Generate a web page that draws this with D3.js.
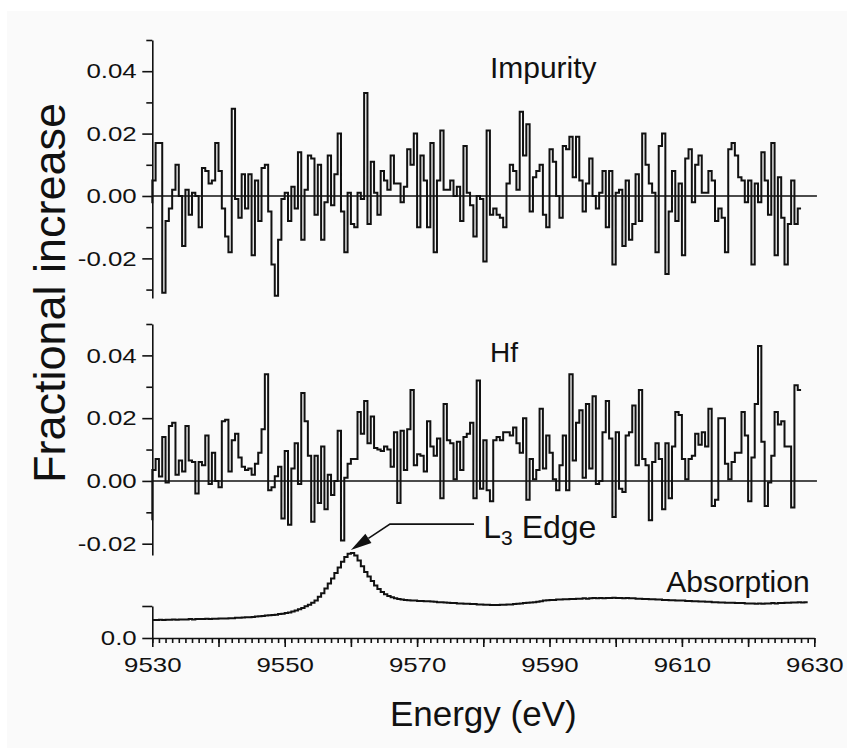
<!DOCTYPE html>
<html lang="en">
<head>
<meta charset="UTF-8">
<title>Fractional increase vs energy</title>
<script src="https://d3js.org/d3.v7.min.js"></script>
<style>
  body { margin: 0; background: #fff; }
  svg { display: block; font-family: "Liberation Sans", Arial, sans-serif; }
</style>
</head>
<body>
<svg width="847" height="750"></svg>
<script>
// bins are 0.5 eV wide, starting at 9530 eV
const binStart = 9530;
const binWidth = 0.5;

// level each trace comes up from at the left edge
const impurityStart = -0.0023;
const hfStart = -0.0125;

const impurity = [
  0.005, 0.017, 0.017, -0.031, -0.008, -0.004, 0.002, 0.010, 0.000, -0.016,
  0.002, -0.006, 0.001, 0.000, -0.010, 0.009, 0.008, 0.004, 0.005, 0.017,
  0.008, -0.004, -0.013, -0.018, 0.028, -0.001, -0.007, 0.007, -0.004, 0.007,
  -0.019, 0.005, -0.008, 0.009, 0.010, -0.005, -0.022, -0.032,
  -0.014, -0.001, 0.001, -0.008, 0.003, -0.004, 0.014, -0.014, 0.002, 0.013,
  0.012, -0.006, 0.010, -0.014, -0.002, 0.013, -0.003, 0.007, 0.020, -0.005,
  -0.018, 0.001, -0.009, -0.010, 0.001, -0.001, 0.033, -0.009, 0.011, 0.001,
  -0.006, 0.008, 0.005, 0.002, 0.013, 0.004, 0.004, -0.002, 0.003, 0.015,
  0.010, 0.020, -0.010, 0.013, 0.005, -0.010, 0.017, -0.018, 0.005, 0.021,
  0.002, 0.002, 0.005, 0.000, 0.003, -0.008, 0.016, 0.001, -0.003, -0.013,
  0.000, -0.001, -0.021, 0.021, -0.006, -0.004, -0.006, -0.007, -0.010, 0.004,
  0.010, 0.008, 0.002, 0.027, 0.013, 0.023, -0.005, 0.006, 0.008, 0.010,
  -0.006, -0.010, 0.015, 0.011, 0.000, -0.007, 0.016, 0.015, 0.019, 0.006,
  0.019, 0.005, -0.005, 0.004, 0.012, 0.000, -0.004, 0.001, 0.008, -0.010,
  0.008, -0.022, 0.001, 0.002, -0.016, 0.005, -0.014, -0.009, 0.007, -0.008,
  0.020, 0.010, 0.004, 0.001, -0.018, 0.016, 0.020, -0.025, -0.005, 0.008,
  -0.008, 0.004, -0.019, 0.012, 0.015, -0.002, 0.010, 0.013, 0.001, 0.001,
  0.008, 0.005, -0.008, -0.004, -0.007, -0.018, 0.015, 0.017, 0.013, 0.006,
  0.005, -0.002, 0.005, -0.022, 0.004, -0.002, 0.014, 0.005, -0.006, 0.017,
  -0.019, 0.006, -0.007, -0.022, -0.009, 0.005, -0.009, -0.004
];

const hf = [
  0.0035, 0.007, 0.0014, 0.014, -0.0005, 0.0175, 0.0185, 0.002, 0.0065, 0.003,
  0.0175, 0.0065, 0.006, -0.004, 0.006, 0.005, 0.0145, -0.001, 0.009, 0.000,
  -0.002, 0.019, 0.0195, 0.003, 0.013, 0.015, 0.0075, 0.0045, 0.0035, 0.004,
  0.002, 0.0055, 0.009, 0.0165, 0.034, -0.003, -0.002, 0.0015, 0.0045, -0.012,
  0.0095, -0.014, 0.004, 0.012,
  -0.001, 0.028, 0.019, 0.008, -0.013, 0.008, -0.007, 0.011, -0.009, 0.002,
  -0.0045, 0.000, 0.016, -0.019, 0.001, 0.0055, 0.007, 0.007, 0.022, 0.015,
  0.0255, 0.012, 0.0205, 0.0105, 0.010, 0.0095, 0.011, 0.010, 0.0045, 0.0155,
  -0.007, 0.016, 0.0035, 0.0165, 0.029, 0.005, 0.0085, 0.008, 0.003, 0.019,
  0.011, 0.008, 0.0135, -0.0055, 0.0245, 0.013, 0.012, 0.0005, 0.0125, 0.0035,
  0.014, 0.015, 0.0185, -0.0055, 0.032, -0.0025, 0.013, -0.003, -0.0065, 0.013,
  0.014, 0.013, 0.0155, 0.0155, 0.0145, 0.017, 0.012, 0.009, 0.020, -0.006,
  0.007, 0.0005, 0.0035, 0.023, 0.004, 0.0145, 0.009, 0.0005, -0.003, 0.005,
  0.0145, -0.003, 0.034, 0.0065, 0.0185,
  0.0225, 0.001, 0.0245, 0.004, 0.027, -0.001, 0.000, 0.0155, 0.0255, 0.0135,
  -0.0115, 0.0155, -0.0025, -0.0035, 0.0145, 0.0155, 0.024, 0.005, 0.029, 0.007,
  0.005, -0.0125, 0.006, 0.012, 0.007, -0.009, 0.012, -0.0055, 0.011, 0.022,
  0.021, 0.007, 0.0005, 0.007, 0.008, 0.015, 0.0115, 0.0155, 0.011, 0.023,
  -0.008, -0.006, 0.020, 0.020, 0.0055, 0.0005, 0.006, 0.009, 0.009, 0.022,
  0.0145, -0.0065, 0.0075, 0.0245, 0.043, 0.0125, -0.008, -0.0005, 0.008, 0.022,
  0.018, 0.019, 0.011, 0.011, -0.0085, 0.0305, 0.029
];

// absorption, arbitrary units (upper unlabelled tick = 1)
const absorption = [
  0.56, 0.56, 0.57, 0.56, 0.57, 0.57, 0.58, 0.57, 0.58, 0.58,
  0.58, 0.59, 0.58, 0.59, 0.59, 0.59, 0.60, 0.59, 0.60, 0.60,
  0.61, 0.61, 0.61, 0.62, 0.62, 0.63, 0.63, 0.64, 0.65, 0.65,
  0.66, 0.67, 0.68, 0.69, 0.70, 0.71, 0.72, 0.73, 0.75, 0.76,
  0.78, 0.80, 0.83, 0.86, 0.90, 0.94, 0.99, 1.04, 1.10, 1.17,
  1.29, 1.40, 1.55, 1.70, 1.86, 2.03, 2.20, 2.38, 2.53, 2.63,
  2.66, 2.58, 2.42, 2.24, 2.06, 1.92, 1.78, 1.64, 1.53, 1.44,
  1.37, 1.31, 1.27, 1.24, 1.22, 1.20, 1.19, 1.18, 1.17, 1.17,
  1.16, 1.16, 1.15, 1.15, 1.14, 1.13, 1.12, 1.12, 1.11, 1.10,
  1.09, 1.09, 1.08, 1.08, 1.07, 1.07, 1.06, 1.06, 1.05, 1.05,
  1.04, 1.04, 1.03, 1.03, 1.03, 1.04, 1.04, 1.05, 1.05, 1.06,
  1.07, 1.08, 1.09, 1.10, 1.11, 1.12, 1.13, 1.15, 1.17, 1.18,
  1.19, 1.19, 1.20, 1.20, 1.21, 1.21, 1.22, 1.22, 1.23, 1.23,
  1.24, 1.23, 1.24, 1.25, 1.24, 1.25, 1.24, 1.25, 1.25, 1.26,
  1.25, 1.25, 1.24, 1.25, 1.24, 1.24, 1.23, 1.23, 1.22, 1.22,
  1.21, 1.21, 1.20, 1.20, 1.19, 1.19, 1.18, 1.18, 1.17, 1.17,
  1.17, 1.16, 1.16, 1.15, 1.15, 1.14, 1.14, 1.13, 1.13, 1.12,
  1.12, 1.11, 1.11, 1.10, 1.10, 1.10, 1.09, 1.09, 1.09, 1.08,
  1.08, 1.08, 1.07, 1.08, 1.07, 1.08, 1.08, 1.09, 1.08, 1.09,
  1.09, 1.10, 1.10, 1.11, 1.11, 1.12, 1.11, 1.12
];

const xTickLabels = [9530, 9550, 9570, 9590, 9610, 9630];
const fracMajor = [-0.02, 0, 0.02, 0.04];
const impMinor = [-0.03, -0.01, 0.01, 0.03, 0.05];
const hfMinor = [-0.01, 0.01, 0.03, 0.05];
const absTicks = [0, 1];

const ink = "#111";
const svg = d3.select("svg");

// faint grey page like the scan
svg.append("rect").attr("x", 7).attr("y", 11).attr("width", 840).attr("height", 737).attr("fill", "#fafafa");

const x = d3.scaleLinear().domain([9530, 9630]).range([152.3, 814.3]);
const yImp = d3.scaleLinear().domain([-0.0327, 0.05]).range([298, 40]);
const yHf = d3.scaleLinear().domain([-0.0236, 0.05]).range([555, 324]);
const yAbs = d3.scaleLinear().domain([0, 1]).range([638, 606]);

function styleAxis(g) {
  g.attr("font-family", null).attr("font-size", null);
  g.selectAll("line, path").attr("stroke", ink).attr("stroke-width", 1.6);
  g.selectAll("text").attr("fill", ink).attr("font-size", 21);
}

function yAxis(scale, major, minor, fmt) {
  const g = svg.append("g").attr("transform", `translate(${x.range()[0]},0)`);
  if (minor.length) {
    g.append("g")
      .call(d3.axisLeft(scale).tickValues(minor).tickSize(6).tickSizeOuter(0).tickFormat(""))
      .call(a => a.select(".domain").remove());
  }
  g.append("g")
    .call(d3.axisLeft(scale).tickValues(major).tickSize(10).tickSizeOuter(0).tickFormat(fmt));
  styleAxis(g);
  // labels in the original are rather wide
  g.selectAll("text").attr("x", -12.7).attr("transform", "scale(1.23,1)");
}

yAxis(yImp, fracMajor, impMinor, d => d.toFixed(2));
yAxis(yHf, fracMajor, hfMinor, d => d.toFixed(2));
yAxis(yAbs, absTicks, [], d => d === 0 ? "0.0" : "");

// x axis: 1 eV minor ticks, 10 eV major ticks, labels every 20 eV
const xg = svg.append("g").attr("transform", `translate(0,${yAbs(0)})`);
xg.append("g")
  .call(d3.axisBottom(x).tickValues(d3.range(9530, 9631, 1)).tickSize(5).tickSizeOuter(0).tickFormat(""))
  .call(a => a.select(".domain").remove());
xg.append("g")
  .call(d3.axisBottom(x).tickValues(d3.range(9530, 9631, 10)).tickSize(9).tickSizeOuter(0)
    .tickFormat(d => xTickLabels.includes(d) ? String(d) : ""));
styleAxis(xg);
xg.selectAll("text").attr("y", 19).attr("transform", "scale(1.23,1)");

// zero lines
[yImp, yHf].forEach(s => {
  svg.append("line")
    .attr("x1", x(9530)).attr("x2", x(9630.4))
    .attr("y1", s(0)).attr("y2", s(0))
    .attr("stroke", ink).attr("stroke-width", 1.5);
});

function bins(vals, start) {
  const pts = vals.map((v, i) => [binStart + i * binWidth, v]);
  pts.push([binStart + vals.length * binWidth, vals[vals.length - 1]]);
  if (start !== undefined) pts.unshift([binStart, start]);
  return pts;
}

function stepPath(vals, scale, start) {
  svg.append("path")
    .datum(bins(vals, start))
    .attr("fill", "none")
    .attr("stroke", ink)
    .attr("stroke-width", 2)
    .attr("stroke-linejoin", "miter")
    .attr("d", d3.line().x(d => x(d[0])).y(d => scale(d[1])).curve(d3.curveStepAfter));
}

stepPath(impurity, yImp, impurityStart);
stepPath(hf, yHf, hfStart);
stepPath(absorption, yAbs);

// panel labels
svg.append("text").attr("x", x(9581)).attr("y", yImp(0.0378))
  .attr("font-size", 30).attr("fill", ink).text("Impurity");
svg.append("text").attr("x", x(9581)).attr("y", yHf(0.0379))
  .attr("font-size", 28).attr("fill", ink).text("Hf");
svg.append("text").attr("x", x(9629.3)).attr("y", yAbs(1.44))
  .attr("text-anchor", "end").attr("font-size", 30).attr("fill", ink).text("Absorption");

// L3 edge annotation
const edge = svg.append("text").attr("x", x(9580)).attr("y", yAbs(3.125))
  .attr("font-size", 32).attr("fill", ink);
edge.append("tspan").text("L");
edge.append("tspan").attr("font-size", 21).attr("dy", 7).text("3");
edge.append("tspan").attr("dy", -7).text(" Edge");

const elbow = [x(9565.9), yAbs(3.56)];
const tip = [x(9560.0), yAbs(2.75)];
const headLen = 21, headHalf = 5.5;
const ang = Math.atan2(tip[1] - elbow[1], tip[0] - elbow[0]);
const base = [tip[0] - headLen * Math.cos(ang), tip[1] - headLen * Math.sin(ang)];
svg.append("path")
  .attr("d", d3.line()([[x(9578.6), yAbs(3.56)], elbow, base]))
  .attr("fill", "none").attr("stroke", ink).attr("stroke-width", 1.6);
svg.append("path")
  .attr("d", d3.line()([
    tip,
    [base[0] + headHalf * Math.sin(ang), base[1] - headHalf * Math.cos(ang)],
    [base[0] - headHalf * Math.sin(ang), base[1] + headHalf * Math.cos(ang)]
  ]) + "Z")
  .attr("fill", ink);

// axis titles
svg.append("text")
  .attr("transform", `translate(65,293) rotate(-90)`)
  .attr("text-anchor", "middle").attr("font-size", 45).attr("fill", ink)
  .text("Fractional increase");
svg.append("text")
  .attr("x", (x.range()[0] + x.range()[1]) / 2).attr("y", 726)
  .attr("text-anchor", "middle").attr("font-size", 35).attr("fill", ink)
  .text("Energy (eV)");
</script>
</body>
</html>
